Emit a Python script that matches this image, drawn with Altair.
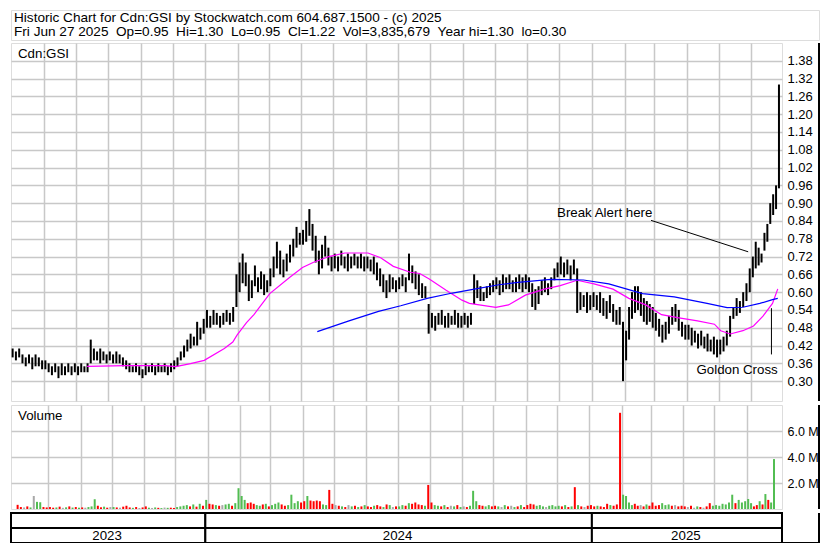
import calendar
import datetime as dt
import pandas as pd
import altair as alt

# ---------------- data ----------------
months = ["2023-07", "2023-08", "2023-09", "2023-10", "2023-11", "2023-12",
          "2024-01", "2024-02", "2024-03", "2024-04", "2024-05", "2024-06",
          "2024-07", "2024-08", "2024-09", "2024-10", "2024-11", "2024-12",
          "2025-01", "2025-02", "2025-03", "2025-04", "2025-05", "2025-06"]

high = [
    [0.41, 0.40, 0.41, 0.39, 0.38, 0.39, 0.38, 0.39, 0.38, 0.37],
    [0.37, 0.36, 0.35, 0.36, 0.35, 0.36, 0.35, 0.36, 0.35, 0.36],
    [0.35, 0.36, 0.35, 0.36, 0.44, 0.41, 0.40, 0.41, 0.40, 0.39],
    [0.40, 0.39, 0.40, 0.39, 0.38, 0.37, 0.36, 0.35, 0.36, 0.35],
    [0.34, 0.36, 0.35, 0.36, 0.35, 0.36, 0.35, 0.36, 0.35, 0.36],
    [0.37, 0.38, 0.40, 0.42, 0.44, 0.46, 0.45, 0.50, 0.48, 0.51],
    [0.54, 0.52, 0.54, 0.53, 0.52, 0.53, 0.54, 0.53, 0.55, 0.66],
    [0.70, 0.73, 0.70, 0.66, 0.64, 0.69, 0.65, 0.67, 0.66, 0.64],
    [0.68, 0.72, 0.77, 0.74, 0.71, 0.73, 0.76, 0.78, 0.82, 0.80],
    [0.81, 0.84, 0.88, 0.83, 0.79, 0.74, 0.76, 0.79, 0.75, 0.72],
    [0.73, 0.72, 0.74, 0.72, 0.73, 0.72, 0.73, 0.72, 0.73, 0.72],
    [0.72, 0.71, 0.72, 0.70, 0.68, 0.66, 0.64, 0.66, 0.65, 0.64],
    [0.65, 0.66, 0.65, 0.73, 0.69, 0.67, 0.66, 0.63, 0.62, 0.56],
    [0.53, 0.52, 0.53, 0.54, 0.52, 0.53, 0.52, 0.54, 0.53, 0.52],
    [0.53, 0.52, 0.53, 0.66, 0.64, 0.62, 0.60, 0.62, 0.63, 0.64],
    [0.65, 0.64, 0.66, 0.65, 0.66, 0.64, 0.65, 0.66, 0.65, 0.66],
    [0.65, 0.63, 0.61, 0.62, 0.64, 0.65, 0.63, 0.65, 0.68, 0.70],
    [0.72, 0.70, 0.71, 0.69, 0.71, 0.68, 0.60, 0.59, 0.60, 0.59],
    [0.60, 0.59, 0.60, 0.58, 0.57, 0.59, 0.56, 0.54, 0.55, 0.50],
    [0.47, 0.55, 0.60, 0.62, 0.62, 0.60, 0.58, 0.57, 0.56, 0.55],
    [0.53, 0.51, 0.49, 0.50, 0.52, 0.55, 0.56, 0.54, 0.50, 0.49],
    [0.49, 0.48, 0.47, 0.46, 0.47, 0.45, 0.46, 0.44, 0.45, 0.44],
    [0.44, 0.45, 0.47, 0.52, 0.55, 0.58, 0.57, 0.60, 0.63, 0.68],
    [0.72, 0.77, 0.75, 0.73, 0.80, 0.83, 0.90, 0.93, 0.96, 1.30],
]
low = [
    [0.38, 0.37, 0.38, 0.36, 0.35, 0.36, 0.34, 0.35, 0.35, 0.34],
    [0.34, 0.33, 0.32, 0.33, 0.31, 0.32, 0.32, 0.33, 0.32, 0.33],
    [0.32, 0.33, 0.33, 0.33, 0.36, 0.37, 0.37, 0.36, 0.37, 0.36],
    [0.37, 0.36, 0.36, 0.36, 0.35, 0.34, 0.33, 0.33, 0.33, 0.32],
    [0.31, 0.32, 0.33, 0.33, 0.32, 0.33, 0.33, 0.33, 0.32, 0.33],
    [0.34, 0.35, 0.37, 0.38, 0.40, 0.41, 0.42, 0.42, 0.44, 0.46],
    [0.48, 0.48, 0.49, 0.49, 0.48, 0.49, 0.50, 0.49, 0.50, 0.55],
    [0.60, 0.63, 0.62, 0.57, 0.58, 0.62, 0.60, 0.61, 0.59, 0.60],
    [0.62, 0.65, 0.68, 0.66, 0.65, 0.67, 0.70, 0.72, 0.75, 0.76],
    [0.76, 0.77, 0.79, 0.74, 0.70, 0.66, 0.68, 0.72, 0.69, 0.67],
    [0.68, 0.67, 0.69, 0.68, 0.67, 0.68, 0.69, 0.68, 0.68, 0.67],
    [0.68, 0.67, 0.66, 0.64, 0.62, 0.60, 0.58, 0.60, 0.61, 0.60],
    [0.61, 0.62, 0.60, 0.64, 0.63, 0.61, 0.59, 0.58, 0.58, 0.46],
    [0.48, 0.47, 0.49, 0.49, 0.48, 0.48, 0.49, 0.49, 0.48, 0.48],
    [0.49, 0.48, 0.49, 0.56, 0.58, 0.57, 0.57, 0.58, 0.59, 0.60],
    [0.61, 0.59, 0.60, 0.61, 0.61, 0.60, 0.60, 0.61, 0.60, 0.61],
    [0.60, 0.55, 0.54, 0.56, 0.59, 0.60, 0.59, 0.61, 0.64, 0.65],
    [0.66, 0.65, 0.66, 0.64, 0.66, 0.53, 0.54, 0.55, 0.53, 0.54],
    [0.55, 0.54, 0.53, 0.52, 0.51, 0.53, 0.50, 0.49, 0.49, 0.30],
    [0.37, 0.44, 0.51, 0.53, 0.54, 0.52, 0.50, 0.49, 0.50, 0.48],
    [0.47, 0.45, 0.43, 0.44, 0.46, 0.49, 0.50, 0.47, 0.45, 0.44],
    [0.44, 0.42, 0.43, 0.41, 0.42, 0.41, 0.40, 0.40, 0.39, 0.38],
    [0.39, 0.40, 0.42, 0.45, 0.51, 0.52, 0.53, 0.55, 0.57, 0.60],
    [0.65, 0.68, 0.69, 0.70, 0.74, 0.77, 0.83, 0.86, 0.88, 0.95],
]

# volume in thousands of shares
vol_k = [
    [320, 150, 120, 200, 120, 1000, 550, 520, 150, 120],
    [150, 100, 120, 180, 90, 130, 200, 110, 150, 100],
    [120, 100, 150, 200, 750, 250, 130, 180, 100, 150],
    [150, 120, 100, 180, 250, 120, 90, 150, 80, 120],
    [200, 100, 80, 120, 90, 70, 110, 90, 100, 80],
    [150, 200, 250, 300, 200, 350, 180, 400, 250, 700],
    [400, 350, 300, 250, 300, 350, 400, 250, 450, 1600],
    [1000, 700, 450, 500, 400, 300, 250, 350, 400, 200],
    [300, 400, 500, 350, 250, 300, 1100, 450, 600, 500],
    [600, 1000, 650, 600, 650, 600, 350, 300, 1470, 400],
    [300, 250, 200, 150, 300, 200, 250, 150, 200, 300],
    [200, 150, 250, 300, 200, 150, 350, 300, 150, 200],
    [200, 300, 250, 450, 400, 500, 350, 300, 250, 1850],
    [500, 300, 250, 200, 300, 150, 250, 200, 300, 150],
    [200, 150, 250, 1400, 600, 300, 250, 200, 300, 200],
    [250, 200, 150, 300, 200, 250, 150, 200, 300, 150],
    [300, 400, 350, 250, 300, 200, 150, 250, 300, 200],
    [250, 200, 300, 150, 200, 1680, 300, 200, 150, 250],
    [300, 200, 250, 200, 150, 400, 300, 250, 350, 7400],
    [1100, 1000, 500, 300, 400, 250, 300, 200, 350, 250],
    [500, 250, 300, 450, 300, 350, 250, 300, 200, 250],
    [200, 150, 250, 100, 200, 150, 100, 200, 450, 250],
    [300, 250, 400, 350, 500, 1100, 450, 700, 500, 600],
    [770, 450, 200, 300, 600, 350, 1150, 700, 500, 3840],
]
# u = up day (green), d = down day (red), n = unchanged (grey)
vol_dir = ["ddndunuudd", "ddudnududu", "dnuuuddudn", "udndddudnd", "dunudunudd",
           "uuuudududu", "ddudnuuduu", "uuddduudud", "uuudduuuud", "dudddduudd",
           "ndudnududu", "dduddudund", "uududdddud", "duududnudu", "nduuudduud",
           "dunudnudud", "ddduuunuuu", "ududududnd", "dduddduddd", "uuuuddndud",
           "ddduuudndd", "dndnudnddu", "uuuuuuduuu", "uuddududuu"]

ma_fast_dates = ["2023-09-11", "2023-10-18", "2023-11-24", "2023-12-04", "2023-12-18",
                 "2023-12-31", "2024-01-19", "2024-01-27", "2024-01-31", "2024-02-09",
                 "2024-02-16", "2024-03-02", "2024-03-21", "2024-04-02", "2024-04-12",
                 "2024-04-27", "2024-05-12", "2024-06-03", "2024-06-15", "2024-06-27",
                 "2024-07-13", "2024-07-22", "2024-07-31", "2024-08-16", "2024-08-31",
                 "2024-09-07", "2024-10-02", "2024-10-14", "2024-10-30", "2024-11-17",
                 "2024-12-02", "2024-12-18", "2025-01-03", "2025-01-21", "2025-02-05",
                 "2025-02-21", "2025-03-08", "2025-03-23", "2025-04-11", "2025-04-27",
                 "2025-05-03", "2025-05-12", "2025-05-24", "2025-06-03", "2025-06-12",
                 "2025-06-21", "2025-06-26"]
ma_fast_vals = [0.350, 0.352, 0.352, 0.349, 0.359, 0.370, 0.410, 0.432, 0.455, 0.497,
                0.524, 0.595, 0.650, 0.683, 0.700, 0.720, 0.732, 0.732, 0.716, 0.687,
                0.667, 0.663, 0.644, 0.606, 0.573, 0.562, 0.549, 0.557, 0.590, 0.610,
                0.622, 0.640, 0.628, 0.610, 0.579, 0.557, 0.524, 0.514, 0.503, 0.492,
                0.470, 0.459, 0.470, 0.486, 0.519, 0.562, 0.611]

ma_slow_dates = ["2024-04-16", "2024-05-16", "2024-06-13", "2024-07-04", "2024-07-29",
                 "2024-08-22", "2024-09-13", "2024-10-05", "2024-10-23", "2024-11-23",
                 "2024-12-24", "2025-01-17", "2025-02-18", "2025-03-20", "2025-04-20",
                 "2025-05-09", "2025-05-24", "2025-06-09", "2025-06-21", "2025-06-26"]
ma_slow_vals = [0.467, 0.503, 0.535, 0.554, 0.579, 0.597, 0.611, 0.625, 0.633, 0.643,
                0.641, 0.628, 0.595, 0.584, 0.562, 0.548, 0.549, 0.562, 0.575, 0.579]

price_ticks = [0.30, 0.36, 0.42, 0.48, 0.54, 0.60, 0.66, 0.72, 0.78, 0.84, 0.90,
               0.96, 1.02, 1.08, 1.14, 1.20, 1.26, 1.32, 1.38]
volume_ticks = [2000000, 4000000, 6000000]

year_labels = ["2023", "2024", "2025"]
year_starts = ["2023-07-01", "2024-01-01", "2025-01-01"]
year_ends = ["2024-01-01", "2025-01-01", "2025-06-30"]
year_mids = ["2023-09-30", "2024-07-01", "2025-03-31"]

note_texts = ["Break Alert here", "Goldon Cross"]
note_dates = ["2024-11-29", "2025-04-10"]
note_prices = [0.866, 0.3375]
pointer_from = [("2025-02-26", 0.842), ("2025-06-20", 0.546)]
pointer_to = [("2025-05-29", 0.736), ("2025-06-20", 0.390)]

header_lines = [
    "Historic Chart for Cdn:GSI by Stockwatch.com 604.687.1500 - (c) 2025",
    "Fri Jun 27 2025 \u00a0Op=0.95 \u00a0Hi=1.30 \u00a0Lo=0.95 \u00a0Cl=1.22 \u00a0Vol=3,835,679 \u00a0Year hi=1.30 \u00a0lo=0.30",
]
last_month_span = 27.5  # trading stops on Jun 27

# ---------------- layout / style ----------------
W, COLW = 771, 37
HH, HP, HV, HT = 30, 358, 104, 30
GRID = "#c8c8c8"
GREEN, RED, GREY = "#52bd52", "#ff0000", "#a8a8a8"
FONT = "Liberation Sans"


def iso(d):
    return d.strftime("%Y-%m-%dT%H:%M:%SZ")


bar_rows, vol_rows = [], []
for mi, m in enumerate(months):
    yy, mo = map(int, m.split("-"))
    span = calendar.monthrange(yy, mo)[1] if mi < len(months) - 1 else last_month_span
    start = dt.datetime(yy, mo, 1)
    n = len(high[mi])
    for i in range(n):
        d = start + dt.timedelta(days=(i + 0.5) * span / n)
        bar_rows.append({"date": iso(d), "high": high[mi][i], "low": low[mi][i]})
    nv = len(vol_k[mi])
    for i in range(nv):
        d = start + dt.timedelta(days=(i + 0.5) * span / nv)
        c = vol_dir[mi][i] if i < len(vol_dir[mi]) else "n"
        vol_rows.append({"date": iso(d), "vol": vol_k[mi][i] * 1000, "dir": c})

bars_df = pd.DataFrame(bar_rows)
vols_df = pd.DataFrame(vol_rows)
fast_df = pd.DataFrame([{"date": d, "v": v} for d, v in zip(ma_fast_dates, ma_fast_vals)])
slow_df = pd.DataFrame([{"date": d, "v": v} for d, v in zip(ma_slow_dates, ma_slow_vals)])
notes_df = pd.DataFrame({"date": note_dates, "p": note_prices, "t": note_texts})
ptr_df = pd.DataFrame([{"d1": a[0], "p1": a[1], "d2": b[0], "p2": b[1]}
                       for a, b in zip(pointer_from, pointer_to)])

x_dom = [alt.DateTime(year=2023, month=7, date=1, utc=True),
         alt.DateTime(year=2025, month=6, date=30, utc=True)]
xscale = alt.Scale(type="utc", domain=x_dom)
month_grid = []
for m in months[1:]:
    yy, mo = map(int, m.split("-"))
    month_grid.append(alt.DateTime(year=yy, month=mo, date=1, utc=True))
grid_axis = alt.Axis(values=month_grid, labels=False, ticks=False, domain=False,
                     title=None, grid=True, gridColor=GRID, gridWidth=1.5)

yscale = alt.Scale(domain=[0.233, 1.44], nice=False, zero=False)
yaxis = alt.Axis(orient="right", values=price_ticks, format=".2f", grid=True,
                 gridColor=GRID, gridWidth=1.5, ticks=False, domain=False,
                 labelFontSize=13, labelPadding=5, labelColor="black",
                 labelOverlap=False, title=None)


def px(field):
    return alt.X(field, scale=xscale, axis=grid_axis)


def py(field):
    return alt.Y(field, scale=yscale, axis=yaxis)


def border_rule(h, bottom=False):
    base = alt.Chart(pd.DataFrame({"a": [0]}))
    right = base.mark_rule(color="black", strokeWidth=2).encode(
        x=alt.value(W + COLW), y=alt.value(0), y2=alt.value(h))
    if not bottom:
        return right
    bot = base.mark_rule(color="black", strokeWidth=2).encode(
        x=alt.value(0), x2=alt.value(W + COLW), y=alt.value(h))
    return right + bot


# ---------------- header ----------------
hdr_df = pd.DataFrame({"t": header_lines, "row": [0, 1]})
header = alt.layer(
    alt.Chart(hdr_df).transform_filter("datum.row == 0").mark_text(
        align="left", baseline="middle", fontSize=13.6, color="black").encode(
        x=alt.value(3), y=alt.value(8), text="t:N"),
    alt.Chart(hdr_df).transform_filter("datum.row == 1").mark_text(
        align="left", baseline="middle", fontSize=13.6, color="black").encode(
        x=alt.value(3), y=alt.value(22), text="t:N"),
).properties(width=W + COLW, height=HH)

# ---------------- price panel ----------------
bars = alt.Chart(bars_df).mark_rule(color="black", strokeWidth=2).encode(
    x=px("date:T"), y=py("low:Q"), y2="high:Q")
fast = alt.Chart(fast_df).mark_line(color="#ff00ff", strokeWidth=1.2).encode(
    x=px("date:T"), y=py("v:Q"))
slow = alt.Chart(slow_df).mark_line(color="#0000ff", strokeWidth=1.2).encode(
    x=px("date:T"), y=py("v:Q"))
notes = alt.Chart(notes_df).mark_text(align="left", baseline="middle", fontSize=13.3,
                                      color="black").encode(
    x=px("date:T"), y=py("p:Q"), text="t:N")
pointers = alt.Chart(ptr_df).mark_rule(color="black", strokeWidth=1).encode(
    x=px("d1:T"), x2="d2:T", y=py("p1:Q"), y2="p2:Q")
plabel = alt.Chart(pd.DataFrame({"t": ["Cdn:GSI"]})).mark_text(
    align="left", baseline="middle", fontSize=13.3, color="black").encode(
    x=alt.value(7), y=alt.value(11), text="t:N")
price = alt.layer(bars, fast, slow, pointers, notes, plabel, border_rule(HP)).properties(
    width=W, height=HP)

# ---------------- volume panel ----------------
vscale = alt.Scale(domain=[0, 8000000], nice=False)
vaxis = alt.Axis(orient="right", values=volume_ticks,
                 labelExpr="format(datum.value / 1000000, '.1f') + ' M'",
                 grid=True, gridColor=GRID, gridWidth=1.5, ticks=False, domain=False,
                 labelFontSize=12.5, labelPadding=5, labelColor="black", title=None)
vbars = alt.Chart(vols_df).mark_bar(size=2).encode(
    x=px("date:T"),
    y=alt.Y("vol:Q", scale=vscale, axis=vaxis),
    color=alt.Color("dir:N", scale=alt.Scale(domain=["u", "d", "n"],
                                             range=[GREEN, RED, GREY]), legend=None))
vlabel = alt.Chart(pd.DataFrame({"t": ["Volume"]})).mark_text(
    align="left", baseline="middle", fontSize=13.3, color="black").encode(
    x=alt.value(7), y=alt.value(11), text="t:N")
volume = alt.layer(vbars, vlabel, border_rule(HV)).properties(width=W, height=HV)

# ---------------- time axis panel ----------------
cells = []
for s, e in zip(year_starts, year_ends):
    cells.append({"s": s, "e": e, "lo": 1, "hi": 2})
    cells.append({"s": s, "e": e, "lo": 0, "hi": 1})
cells_df = pd.DataFrame(cells)
ylab_df = pd.DataFrame({"mid": year_mids, "t": year_labels, "yv": [0.5] * len(year_labels)})
rscale = alt.Scale(domain=[0, 2], nice=False, zero=False)
cells_l = alt.Chart(cells_df).mark_rect(fill="white", stroke="black", strokeWidth=2).encode(
    x=alt.X("s:T", scale=xscale, axis=None), x2="e:T",
    y=alt.Y("lo:Q", scale=rscale, axis=None), y2="hi:Q")
years_l = alt.Chart(ylab_df).mark_text(baseline="middle", fontSize=13.3, color="black").encode(
    x=alt.X("mid:T", scale=xscale, axis=None),
    y=alt.Y("yv:Q", scale=rscale, axis=None), text="t:N")
timep = alt.layer(cells_l, years_l, border_rule(HT, bottom=True)).properties(
    width=W, height=HT)

chart = alt.vconcat(header, price, volume, timep, spacing=0,
                    padding={"left": 1, "top": 1, "right": 1, "bottom": 1}).configure_view(
    stroke="black", strokeWidth=2).configure(font=FONT).configure_concat(spacing=0)

chart.save("out.html", embed_options={"renderer": "svg", "actions": False})
